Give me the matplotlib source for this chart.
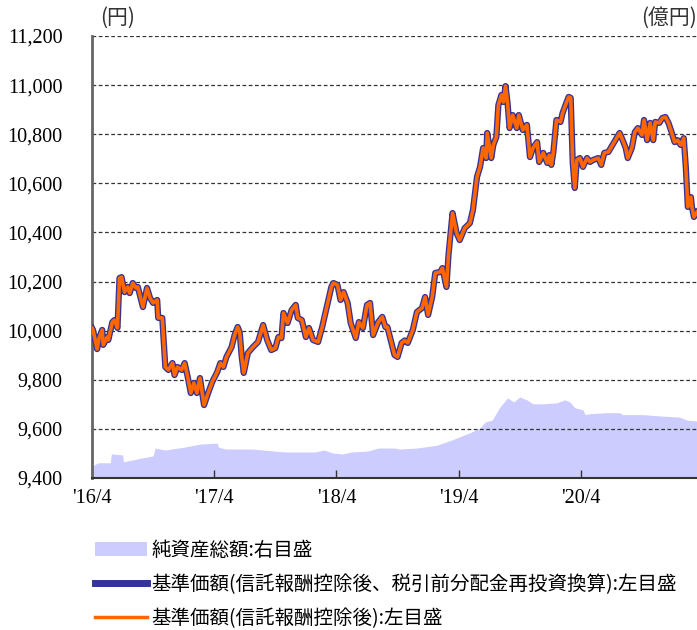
import numpy as np
import matplotlib
matplotlib.use("Agg")
import matplotlib.pyplot as plt
from matplotlib.patches import Patch
from matplotlib.lines import Line2D

# months since 2016/4
nav_month = [0.0, 0.1, 0.5, 0.7, 1.0, 1.1, 1.5, 1.6, 2.0, 2.2, 2.5, 2.7, 2.9, 3.2, 3.5, 3.7,
             4.0, 4.3, 4.5, 5.0, 5.4, 5.7, 6.0, 6.4, 6.5, 6.9, 7.2, 7.5, 7.9, 8.1, 8.4, 8.8,
             9.1, 9.4, 9.7, 10.0, 10.3, 10.6, 11.0, 11.4, 11.8, 12.3, 12.6, 12.9, 13.2, 13.7,
             14.0, 14.3, 14.5, 14.7, 14.9, 15.3, 15.8, 16.3, 16.8, 17.2, 17.6, 18.0, 18.3,
             18.6, 18.8, 19.2, 19.6, 20.0, 20.2, 20.6, 21.0, 21.3, 21.7, 22.2, 22.6, 23.1,
             23.5, 23.7, 24.1, 24.4, 24.7, 25.1, 25.4, 25.9, 26.2, 26.6, 27.0, 27.3, 27.6,
             28.1, 28.5, 28.8, 29.0, 29.4, 29.7, 30.0, 30.4, 30.7, 31.0, 31.5, 31.9, 32.4,
             32.7, 33.0, 33.4, 33.7, 34.2, 34.4, 34.8, 35.0, 35.4, 35.8, 36.1, 36.6, 37.1,
             37.4, 37.8, 38.1, 38.4, 38.7, 38.8, 39.2, 39.4, 39.7, 39.9, 40.2, 40.4, 40.6,
             40.8, 41.0, 41.3, 41.7, 41.9, 42.3, 42.7, 43.0, 43.3, 43.7, 43.9, 44.3, 44.7,
             44.9, 45.1, 45.3, 45.6, 46.0, 46.2, 46.6, 46.8, 47.0, 47.2, 47.4, 47.6, 47.9,
             48.2, 48.6, 48.9, 49.2, 49.7, 50.0, 50.3, 50.7, 51.1, 51.5, 51.8, 52.1, 52.4,
             52.6, 53.0, 53.3, 53.6, 54.0, 54.2, 54.5, 54.8, 55.1, 55.3, 55.7, 56.0, 56.3,
             56.6, 56.9, 57.2, 57.5, 57.8, 58.1, 58.3, 58.5, 58.8, 58.9, 59.1, 59.4]
nav = [10011, 10003, 9925, 9970, 10003, 9942, 9974, 9962, 10035, 10043, 10011, 10214, 10218,
       10157, 10178, 10153, 10194, 10174, 10178, 10096, 10174, 10133, 10113, 10125, 10052,
       10052, 9852, 9840, 9868, 9819, 9852, 9840, 9868, 9811, 9746, 9787, 9746, 9807, 9697,
       9746, 9791, 9832, 9868, 9852, 9893, 9933, 9982, 10015, 9994, 9893, 9828, 9909, 9933,
       9954, 10023, 9962, 9921, 9929, 9974, 9970, 10072, 10031, 10084, 10105, 10052, 10043,
       9974, 10011, 9962, 9954, 10015, 10105, 10178, 10194, 10186, 10125, 10157, 10113,
       10031, 9970, 10035, 10011, 10105, 10113, 9982, 10035, 10056, 10015, 10015, 9950,
       9901, 9893, 9950, 9960, 9950, 10003, 10076, 10092, 10137, 10064, 10137, 10235,
       10239, 10255, 10178, 10308, 10479, 10397, 10369, 10418, 10438, 10491, 10626, 10667,
       10744, 10703, 10805, 10703, 10756, 10789, 10919, 10960, 10931, 10996, 10927, 10825,
       10878, 10825, 10878, 10817, 10838, 10707, 10744, 10768, 10687, 10724, 10683, 10715,
       10675, 10728, 10858, 10850, 10886, 10931, 10952, 10948, 10683, 10581, 10695, 10703,
       10667, 10703, 10687, 10695, 10703, 10675, 10724, 10728, 10756, 10784, 10805, 10776,
       10744, 10703, 10744, 10809, 10825, 10797, 10858, 10776, 10846, 10776, 10850, 10846,
       10866, 10870, 10846, 10809, 10768, 10776, 10756, 10784, 10667, 10504, 10544, 10504,
       10463, 10483]

asset_month = [0.0, 0.6, 1.8, 1.9, 3.0, 3.1, 4.5, 6.0, 6.2, 7.2, 9.1, 10.6, 12.3, 12.4, 13.1,
               15.7, 18.9, 21.9, 22.8, 23.6, 24.6, 25.5, 27.1, 28.1, 29.7, 30.2, 31.9, 33.9,
               35.4, 37.1, 38.1, 38.6, 39.3, 40.0, 40.8, 41.4, 42.0, 42.7, 43.3, 44.3, 45.6,
               46.4, 46.9, 47.4, 48.2, 48.4, 48.9, 50.5, 51.8, 52.1, 54.1, 56.0, 57.7, 58.4,
               59.4]
assets = [24, 31, 31, 49, 47, 33, 39, 45, 61, 57, 63, 69, 71, 63, 59, 59, 53, 53, 57, 51, 49,
          53, 55, 61, 61, 59, 61, 67, 78, 92, 102, 114, 118, 143, 163, 155, 165, 159, 151,
          151, 153, 159, 155, 143, 139, 129, 131, 133, 133, 129, 129, 126, 124, 118, 116]

tick_months = [0, 12, 24, 36, 48]
tick_labels = ["'16/4", "'17/4", "'18/4", "'19/4", "'20/4"]
y_ticks = [9400, 9600, 9800, 10000, 10200, 10400, 10600, 10800, 11000, 11200]

jp = ["Noto Sans CJK JP", "DejaVu Sans"]
serif = "Liberation Serif"

fig = plt.figure(figsize=(6.97, 6.30), dpi=100)
ax = fig.add_axes([92 / 697, (630 - 478) / 630, 1 - 92 / 697, (478 - 36) / 630])
ax2 = ax.twinx()
ax.set_zorder(ax2.get_zorder() + 1)
ax.patch.set_visible(False)

ax2.fill_between(asset_month, assets, 0, color="#ccccff", lw=0)
ax2.set_ylim(0, 900)
ax2.set_yticks([])
for s in ax2.spines.values():
    s.set_visible(False)

ax.set_ylim(9400, 11200)
ax.set_xlim(0, 59.4)
ax.set_yticks(y_ticks)
ax.set_yticklabels([f"{v:,}" for v in y_ticks], fontfamily=serif, fontsize=14.5)
ax.set_xticks(tick_months)
ax.set_xticklabels(tick_labels, fontfamily=serif, fontsize=14.5)
ax.tick_params(axis="y", length=0, pad=21)
ax.tick_params(axis="x", direction="in", length=6, width=1, pad=8, color="#333333")
for y in y_ticks[1:]:
    ax.axhline(y, color="#333333", lw=0.9, ls=(0, (3, 2)), zorder=1)

ax.plot(nav_month, nav, color="#333399", lw=4.5, solid_joinstyle="round", zorder=3)
ax.plot(nav_month, nav, color="#ff6600", lw=2.6, solid_joinstyle="round", zorder=4)

for side in ["top", "right"]:
    ax.spines[side].set_visible(False)
ax.spines["left"].set_color("#666666")
ax.spines["left"].set_linewidth(2)
ax.spines["bottom"].set_color("#333333")
ax.spines["bottom"].set_linewidth(1.5)

fig.text(100 / 697, 1 - 18 / 630, "(円)", family=jp, fontsize=15, va="center", ha="left",
         color="#333333")
fig.text(697 / 697, 1 - 18 / 630, "(億円)", family=jp, fontsize=15, va="center", ha="right",
         color="#333333")

handles = [Patch(facecolor="#ccccff", edgecolor="none"),
           Line2D([], [], color="#333399", lw=5),
           Line2D([], [], color="#ff6600", lw=2.5)]
labels = ["純資産総額:右目盛",
          "基準価額(信託報酬控除後、税引前分配金再投資換算):左目盛",
          "基準価額(信託報酬控除後):左目盛"]
fig.legend(handles, labels, loc="upper left", bbox_to_anchor=(87 / 697, 1 - 532 / 630),
           frameon=False, prop={"family": jp, "size": 14}, handlelength=2.7,
           handleheight=0.75, handletextpad=0.2, labelspacing=0.68, borderaxespad=0)

fig.savefig("out.png", dpi=100)
